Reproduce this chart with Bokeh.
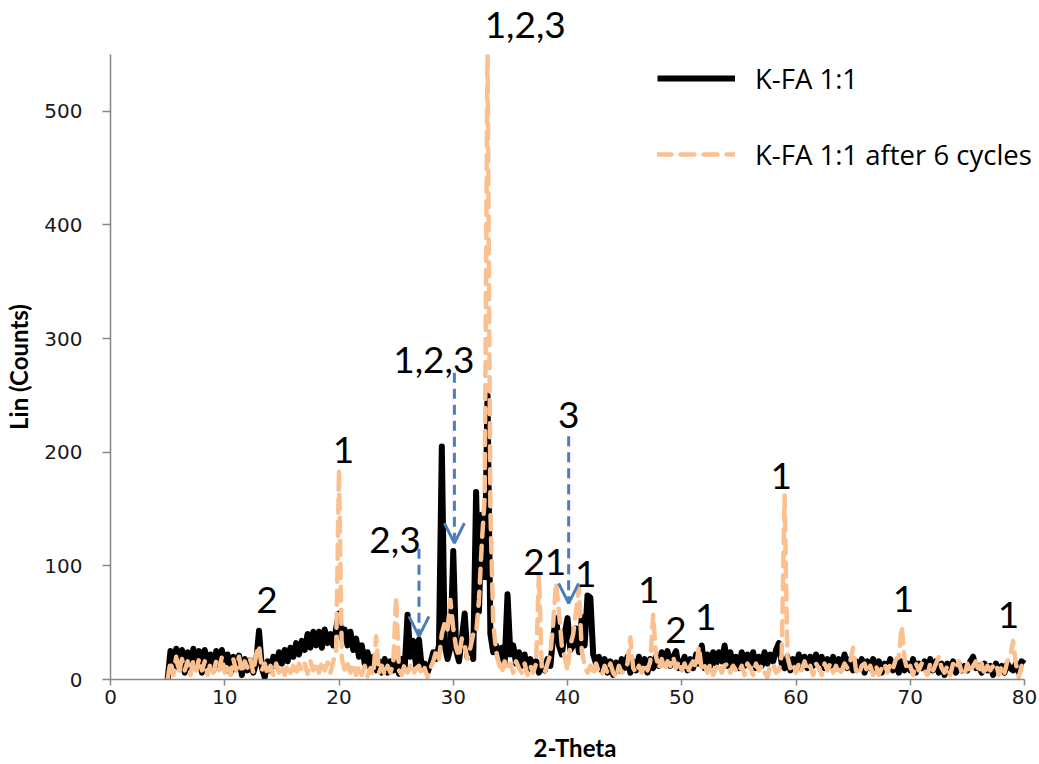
from bokeh.plotting import figure
from bokeh.models import (Label, Arrow, OpenHead, Legend, LegendItem, FixedTicker,
                          Range1d, ColumnDataSource, LinearAxis)
from bokeh.embed import file_html
from bokeh.resources import INLINE

# 2-theta grid, 0.25 degree steps from 5 to 80
theta = [5.0 + 0.25 * i for i in range(301)]

# K-FA 1:1 (4 values per degree, from 5.0 to 80.0)
kfa = [
    0, 25, 8, 27,      # 5
    12, 26, 6, 24,     # 6
    10, 27, 14, 25,    # 7
    6, 26, 12, 22,     # 8
    8, 25, 10, 26,     # 9
    12, 22, 6, 20,     # 10
    9, 21, 4, 18,      # 11
    8, 17, 6, 15,      # 12
    43, 10, 2, 16,     # 13
    8, 20, 12, 24,     # 14
    14, 26, 16, 28,    # 15
    20, 32, 22, 34,    # 16
    26, 40, 28, 42,    # 17
    30, 42, 28, 44,    # 18
    32, 40, 30, 45,    # 19
    58, 36, 44, 30,    # 20
    42, 26, 36, 20,    # 21
    30, 14, 24, 10,    # 22
    20, 8, 16, 6,      # 23
    18, 6, 16, 8,      # 24
    15, 5, 18, 10,     # 25
    57, 20, 34, 12,    # 26
    35, 10, 14, 6,     # 27
    14, 24, 18, 30,    # 28
    205, 30, 18, 28,   # 29
    113, 26, 16, 36,   # 30
    58, 20, 26, 18,    # 31
    165, 60, 145, 90,  # 32
    250, 40, 24, 30,   # 33
    18, 28, 14, 75,    # 34
    22, 30, 14, 24,    # 35
    12, 22, 8, 18,     # 36
    10, 16, 6, 14,     # 37
    8, 18, 12, 38,     # 38
    54, 30, 22, 40,    # 39
    54, 26, 30, 45,    # 40
    24, 55, 30, 74,    # 41
    72, 22, 14, 20,    # 42
    8, 18, 6, 16,      # 43
    4, 15, 8, 18,      # 44
    10, 20, 6, 16,     # 45
    8, 20, 10, 18,     # 46
    6, 18, 10, 20,     # 47
    12, 24, 14, 25,    # 48
    12, 20, 25, 10,    # 49
    14, 20, 8, 18,     # 50
    10, 22, 14, 30,    # 51
    10, 22, 12, 24,    # 52
    14, 24, 16, 30,    # 53
    12, 24, 14, 20,    # 54
    10, 24, 12, 22,    # 55
    14, 24, 10, 20,    # 56
    12, 24, 14, 22,    # 57
    16, 26, 32, 14,    # 58
    10, 20, 8, 18,     # 59
    12, 22, 10, 20,    # 60
    10, 20, 12, 22,    # 61
    14, 20, 10, 18,    # 62
    12, 20, 10, 18,    # 63
    12, 22, 10, 18,    # 64
    8, 16, 10, 18,     # 65
    6, 16, 10, 18,     # 66
    8, 16, 6, 14,      # 67
    10, 18, 8, 16,     # 68
    6, 16, 8, 14,      # 69
    8, 18, 6, 14,      # 70
    10, 16, 6, 18,     # 71
    8, 16, 6, 14,      # 72
    4, 14, 8, 16,      # 73
    6, 14, 8, 12,      # 74
    8, 16, 20, 10,     # 75
    12, 6, 14, 8,      # 76
    12, 4, 14, 8,      # 77
    12, 6, 14, 10,     # 78
    8, 14, 6, 16,      # 79
    14,                # 80
]

# K-FA 1:1 after 6 cycles (peak at 33 runs off the top of the axis at 550)
kfa6 = [
    0, 16, 4, 20,      # 5
    6, 18, 8, 16,      # 6
    4, 17, 8, 18,      # 7
    8, 16, 4, 14,      # 8
    6, 16, 8, 20,      # 9
    6, 14, 4, 18,      # 10
    8, 20, 6, 16,      # 11
    10, 18, 6, 22,     # 12
    30, 8, 14, 4,      # 13
    12, 4, 14, 6,      # 14
    12, 4, 13, 6,      # 15
    12, 4, 14, 8,      # 16
    14, 5, 16, 8,      # 17
    15, 6, 16, 8,      # 18
    15, 6, 16, 25,     # 19
    185, 18, 8, 14,    # 20
    6, 14, 4, 12,      # 21
    4, 12, 3, 10,      # 22
    4, 38, 6, 12,      # 23
    4, 12, 6, 14,      # 24
    73, 8, 4, 14,      # 25
    6, 12, 4, 10,      # 26
    12, 4, 10, 2,      # 27
    10, 16, 25, 18,    # 28
    40, 50, 44, 70,    # 29
    45, 28, 20, 36,    # 30
    30, 18, 28, 40,    # 31
    40, 70, 120, 160,  # 32
    560, 150, 50, 25,  # 33
    14, 6, 16, 8,      # 34
    14, 6, 16, 10,     # 35
    6, 14, 4, 12,      # 36
    6, 14, 93, 10,     # 37
    6, 14, 22, 50,     # 38
    85, 60, 30, 20,    # 39
    8, 30, 40, 60,     # 40
    81, 25, 12, 6,     # 41
    12, 4, 14, 6,      # 42
    4, 12, 6, 14,      # 43
    6, 2, 12, 6,       # 44
    8, 14, 37, 10,     # 45
    6, 12, 6, 14,      # 46
    8, 16, 57, 20,     # 47
    10, 18, 8, 16,     # 48
    12, 20, 10, 16,    # 49
    8, 14, 6, 12,      # 50
    16, 10, 29, 8,     # 51
    12, 6, 14, 4,      # 52
    10, 14, 6, 12,     # 53
    14, 6, 12, 8,      # 54
    6, 12, 4, 14,      # 55
    10, 4, 14, 8,      # 56
    12, 6, 2, 12,      # 57
    14, 6, 8, 22,      # 58
    162, 20, 10, 14,   # 59
    6, 14, 8, 16,      # 60
    8, 12, 4, 14,      # 61
    10, 4, 14, 8,      # 62
    14, 6, 12, 4,      # 63
    8, 14, 10, 16,     # 64
    28, 8, 4, 12,      # 65
    14, 6, 12, 4,      # 66
    12, 4, 10, 14,     # 67
    6, 14, 10, 18,     # 68
    20, 47, 18, 8,     # 69
    12, 4, 14, 8,      # 70
    14, 8, 4, 14,      # 71
    8, 14, 20, 10,     # 72
    6, 12, 4, 14,      # 73
    10, 16, 6, 4,      # 74
    14, 6, 12, 16,     # 75
    6, 14, 4, 12,      # 76
    8, 12, 14, 4,      # 77
    12, 6, 16, 20,     # 78
    34, 14, 2, 12,     # 79
    5,                 # 80
]

assert len(kfa) == len(theta) and len(kfa6) == len(theta)

series_names = ["K-FA 1:1", "K-FA 1:1 after 6 cycles"]

# peak annotations inside the plot: text, 2-theta position, count (text baseline)
ann_text = ["2", "1", "2,3", "1,2,3", "21", "3", "1", "1", "2", "1", "1", "1", "1"]
ann_x = [13.7, 20.4, 24.9, 28.3, 38.0, 40.1, 41.6, 47.1, 49.5, 52.1, 58.7, 69.4, 78.6]
ann_y = [70, 202, 123, 281, 103, 233, 93, 79, 44, 55, 179, 71, 57]

# annotation above the plot area (main peak, off-scale)
top_ann_text = "1,2,3"
top_ann_x = 36.3

# blue dashed arrows: x, start count, end count
arrow_x = [27.0, 30.1, 40.1]
arrow_y0 = [115, 270, 214]
arrow_y1 = [38, 120, 67]

x_ticks = [0, 10, 20, 30, 40, 50, 60, 70, 80]
y_ticks = [0, 100, 200, 300, 400, 500]
x_axis_max = 80

# the frame reaches the right edge of the page (so the legend is not cut);
# the x axis line itself stops at 80
px_per_deg = 914 / 80
p = figure(width=1039, height=764, output_backend="svg", toolbar_location=None,
           x_range=Range1d(0, 80 + 15 / px_per_deg), y_range=Range1d(0, 550),
           min_border_left=110, min_border_right=0, min_border_top=54,
           min_border_bottom=85)
p.outline_line_color = None
p.grid.visible = False
p.background_fill_color = "white"
p.border_fill_color = "white"

src = ColumnDataSource(dict(theta=theta, kfa=kfa, kfa6=kfa6))
r1 = p.line("theta", "kfa", source=src, line_color="black", line_width=6,
            line_join="round")
r2 = p.line("theta", "kfa6", source=src, line_color="#FAC090", line_width=4.5,
            line_dash="14 9", line_cap="round", line_join="round")

axis_gray = "#868686"
for ax in (p.xaxis[0], p.yaxis[0]):
    ax.axis_line_color = axis_gray
    ax.axis_line_width = 1.5
    ax.major_tick_line_color = axis_gray
    ax.major_tick_line_width = 1.5
    ax.minor_tick_line_color = None
    ax.major_tick_in = 0
    ax.major_label_text_font = "DejaVu Sans"
    ax.major_label_text_font_size = "20px"
    ax.major_label_text_color = "#1a1a1a"
    ax.axis_label_text_font = "Lato"
    ax.axis_label_text_font_style = "bold"
    ax.axis_label_text_font_size = "24px"
    ax.axis_label_text_color = "black"

p.xaxis.bounds = (0, x_axis_max)
p.xaxis.ticker = FixedTicker(ticks=x_ticks)
p.yaxis.ticker = FixedTicker(ticks=y_ticks)
p.xaxis.major_tick_out = 6
p.yaxis.major_tick_out = 8
p.xaxis.major_label_standoff = 4
p.yaxis.major_label_standoff = 20
p.xaxis.axis_label = "2-Theta"
p.yaxis.axis_label = "Lin (Counts)"
p.xaxis.axis_label_standoff = 26
p.yaxis.axis_label_standoff = 8

# top annotation drawn as the only label of an invisible axis above the frame
top_axis = LinearAxis(ticker=FixedTicker(ticks=[top_ann_x]),
                      major_label_overrides={top_ann_x: top_ann_text},
                      axis_line_color=None, major_tick_line_color=None,
                      minor_tick_line_color=None, major_tick_out=0, major_tick_in=0,
                      major_label_standoff=17,
                      major_label_text_font="Lato",
                      major_label_text_font_size="37px",
                      major_label_text_color="black")
p.add_layout(top_axis, "above")

for t, x, y in zip(ann_text, ann_x, ann_y):
    p.add_layout(Label(x=x, y=y, text=t, text_align="center",
                       text_baseline="alphabetic", text_font="Lato",
                       text_font_size="37px", text_color="black"))

blue = "#4A7EBB"
for x, y0, y1 in zip(arrow_x, arrow_y0, arrow_y1):
    p.add_layout(Arrow(x_start=x, y_start=y0, x_end=x, y_end=y1,
                       line_color=blue, line_width=3, line_dash="10 6",
                       end=OpenHead(size=20, line_color=blue, line_width=3),
                       start=None))

legend = Legend(items=[LegendItem(label=series_names[0], renderers=[r1]),
                       LegendItem(label=series_names[1], renderers=[r2])],
                location=(547, 505), orientation="vertical",
                glyph_width=78, glyph_height=40, label_height=40,
                spacing=36, label_standoff=20, padding=0, margin=0,
                border_line_color=None, background_fill_alpha=0,
                label_text_font="Open Sans", label_text_font_size="27.5px",
                label_text_color="black")
p.add_layout(legend)

open("out.html", "w").write(file_html(p, INLINE))
